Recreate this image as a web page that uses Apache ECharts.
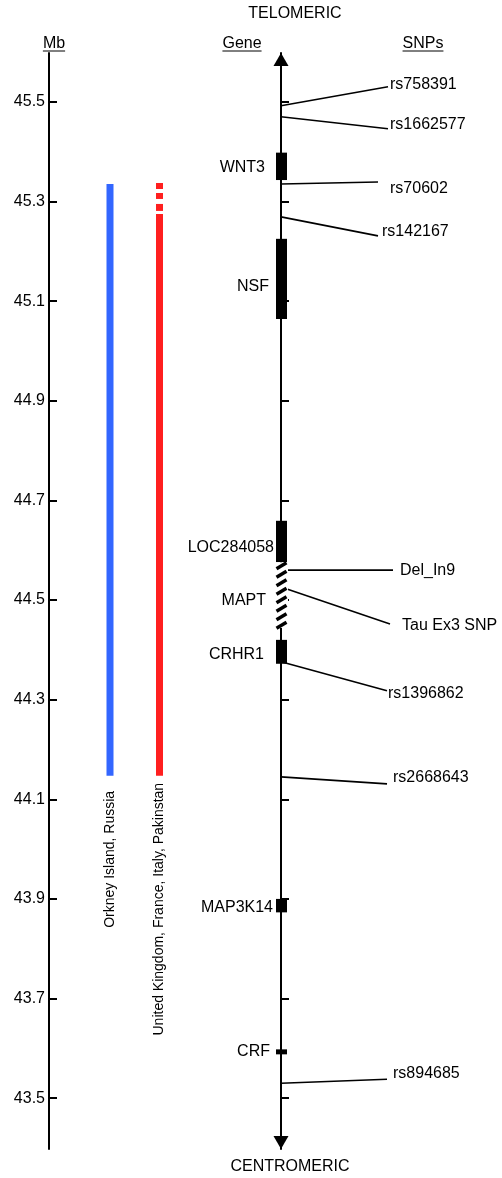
<!DOCTYPE html>
<html><head><meta charset="utf-8">
<script src="https://cdn.jsdelivr.net/npm/echarts@6/dist/echarts.min.js"></script>
<style>html,body{margin:0;padding:0;background:#fff}#c{width:502px;height:1178px}</style>
</head><body><div id="c"></div>
<script>
// ---------------- data ----------------
const mbTicks = [43.5, 43.7, 43.9, 44.1, 44.3, 44.5, 44.7, 44.9, 45.1, 45.3, 45.5];
const populations = ['Orkney Island, Russia', 'United Kingdom, France, Italy, Pakinstan'];
const blueSegments = [[45.335, 44.147]];
const redSegments = [[45.337, 45.325], [45.317, 45.305], [45.295, 45.281], [45.275, 44.147]];
const genes = ['WNT3', 'NSF', 'LOC284058', 'MAPT', 'CRHR1', 'MAP3K14', 'CRF'];
const geneTop = [45.398, 45.225, 44.659, 44.576, 44.420, 43.900, 43.598];
const geneBottom = [45.343, 45.064, 44.576, 44.444, 44.372, 43.873, 43.588];
const hatchedGenes = ['MAPT'];
const snps = ['rs758391', 'rs1662577', 'rs70602', 'rs142167', 'Del_In9', 'Tau Ex3 SNP', 'rs1396862', 'rs2668643', 'rs894685'];
const snpPos = [45.492, 45.470, 45.335, 45.269, 44.560, 44.526, 44.376, 44.145, 43.530];

// ---------------- layout ----------------
const W = 502;
const FONT = '"Liberation Sans", Arial, Helvetica, sans-serif';
const Y_MIN = 43.5 - 0.102, Y_MAX = 45.5 + 0.098;
const AXIS_X = 49, CENTER_X = 281;
const POP_X = [110, 159.5], POP_COLORS = ['#3366ff', '#ff1f1f'], BAR_W = 7;
const POP_LABEL_GAP = [15, 7];
const GENE_X = 281.5, GENE_W = 11;
// gene label: right edge x, vertical shift (px)
const GENE_LABEL = {
  'WNT3': [265, 1.5], 'NSF': [269, 8], 'LOC284058': [274, 6], 'MAPT': [266, 6],
  'CRHR1': [264, 3], 'MAP3K14': [273, 1.5], 'CRF': [270, 0]
};
// snp: line end x, line end dy (from start), text x, text dy (from line end)
const SNP_LABEL = {
  'rs758391': [388, -19, 390, -2], 'rs1662577': [388, 12, 390, -4],
  'rs70602': [378, -2, 390, 7], 'rs142167': [378, 19, 382, -4],
  'Del_In9': [393, 0, 400, 0], 'Tau Ex3 SNP': [390, 37, 402, 2],
  'rs1396862': [387, 29, 388, 3], 'rs2668643': [387, 7, 393, -6],
  'rs894685': [387, -4, 393, -6]
};
const POP_SEGMENTS = [blueSegments, redSegments];

const chart = echarts.init(document.getElementById('c'));

function popRender(params, api) {
  const i = params.dataIndex;
  const segs = POP_SEGMENTS[i];
  const children = [];
  let lowest = -Infinity;
  segs.forEach(s => {
    const p1 = api.coord([POP_X[i], s[0]]);
    const p2 = api.coord([POP_X[i], s[1]]);
    lowest = Math.max(lowest, p2[1]);
    children.push({type: 'rect', shape: {x: p1[0] - BAR_W / 2, y: p1[1], width: BAR_W, height: p2[1] - p1[1]},
      style: {fill: POP_COLORS[i]}});
  });
  children.push({type: 'text', x: POP_X[i], y: lowest + POP_LABEL_GAP[i], rotation: Math.PI / 2,
    style: {text: populations[i], x: 0, y: 0, align: 'right', verticalAlign: 'middle',
      font: '14px ' + FONT, fill: '#000'}});
  return {type: 'group', children};
}

function geneRender(params, api) {
  const i = params.dataIndex;
  const p1 = api.coord([GENE_X, geneTop[i]]);
  const p2 = api.coord([GENE_X, geneBottom[i]]);
  const children = [];
  if (hatchedGenes.indexOf(genes[i]) >= 0) {
    children.push({type: 'rect', shape: {x: p1[0] - GENE_W / 2 - 1, y: p1[1], width: GENE_W + 2, height: p2[1] - p1[1]},
      style: {fill: '#fff'}});
    const step = 8.5;
    for (let y = p1[1] + 3.5; y <= p2[1] - 1; y += step) {
      children.push({type: 'line', shape: {x1: p1[0] - GENE_W / 2 + 0.5, y1: y + 3, x2: p1[0] + GENE_W / 2 - 0.5, y2: y - 3},
        style: {stroke: '#000', lineWidth: 3.5}});
    }
  } else {
    children.push({type: 'rect', shape: {x: p1[0] - GENE_W / 2, y: p1[1], width: GENE_W, height: Math.max(p2[1] - p1[1], 1)},
      style: {fill: '#000'}});
  }
  const lab = GENE_LABEL[genes[i]];
  children.push({type: 'text', style: {text: genes[i], x: lab[0], y: (p1[1] + p2[1]) / 2 + lab[1],
    align: 'right', verticalAlign: 'middle', font: '16px ' + FONT, fill: '#000'}});
  return {type: 'group', children};
}

function snpRender(params, api) {
  const i = params.dataIndex;
  const p = api.coord([CENTER_X, snpPos[i]]);
  const lab = SNP_LABEL[snps[i]];
  const ey = p[1] + lab[1];
  return {type: 'group', children: [
    {type: 'line', shape: {x1: p[0], y1: p[1], x2: lab[0], y2: ey}, style: {stroke: '#000', lineWidth: 1.6}},
    {type: 'text', style: {text: snps[i], x: lab[2], y: ey + lab[3], align: 'left', verticalAlign: 'middle',
      font: '16px ' + FONT, fill: '#000'}}
  ]};
}

const ctx = document.createElement('canvas').getContext('2d');
function headerText(text, x, y, underline) {
  const font = '16px ' + FONT;
  const els = [{type: 'text', x: x, y: y, style: {text, font, fill: '#000', align: 'center', verticalAlign: 'middle',
    textAlign: 'center', textVerticalAlign: 'middle'}}];
  if (underline) {
    ctx.font = font;
    const w = ctx.measureText(text).width;
    els.push({type: 'line', shape: {x1: x - w / 2, y1: y + 7, x2: x + w / 2, y2: y + 7}, style: {stroke: '#000', lineWidth: 1}});
  }
  return els;
}

const axisCommon = {
  type: 'value', min: Y_MIN, max: Y_MAX, position: 'left', splitLine: {show: false}
};

const option = {
  animation: false,
  backgroundColor: '#fff',
  grid: {left: 0, right: 0, top: 53, bottom: 29, containLabel: false, outerBoundsMode: 'none'},
  xAxis: {type: 'value', min: 0, max: W, show: false},
  yAxis: [
    Object.assign({}, axisCommon, {
      offset: -AXIS_X,
      axisLine: {show: true, onZero: false, lineStyle: {color: '#000', width: 2}},
      axisTick: {show: true, inside: true, length: 8, customValues: mbTicks, lineStyle: {color: '#000', width: 2}},
      axisLabel: {show: true, customValues: mbTicks, margin: 4, color: '#000', fontSize: 16, fontFamily: FONT,
        formatter: v => Number(v).toFixed(1)}
    }),
    Object.assign({}, axisCommon, {
      offset: -CENTER_X,
      axisLine: {show: true, onZero: false, symbol: ['triangle', 'triangle'], symbolSize: [15, 13],
        symbolOffset: [6.5, -6.5], lineStyle: {color: '#000', width: 2}},
      axisTick: {show: true, inside: true, length: 8, customValues: mbTicks, lineStyle: {color: '#000', width: 2}},
      axisLabel: {show: false}
    })
  ],
  graphic: [].concat(
    headerText('TELOMERIC', 295, 14, false),
    headerText('Mb', 54, 44, true),
    headerText('Gene', 242, 44, true),
    headerText('SNPs', 423, 44, true),
    headerText('CENTROMERIC', 290, 1167, false)
  ),
  series: [
    {type: 'custom', name: 'populations', renderItem: popRender, data: populations.map((p, i) => [i]), z: 3},
    {type: 'custom', name: 'snps', renderItem: snpRender, data: snps.map((s, i) => [i]), z: 4},
    {type: 'custom', name: 'genes', renderItem: geneRender, data: genes.map((g, i) => [i]), z: 5}
  ]
};
chart.setOption(option);
</script>
</body></html>
